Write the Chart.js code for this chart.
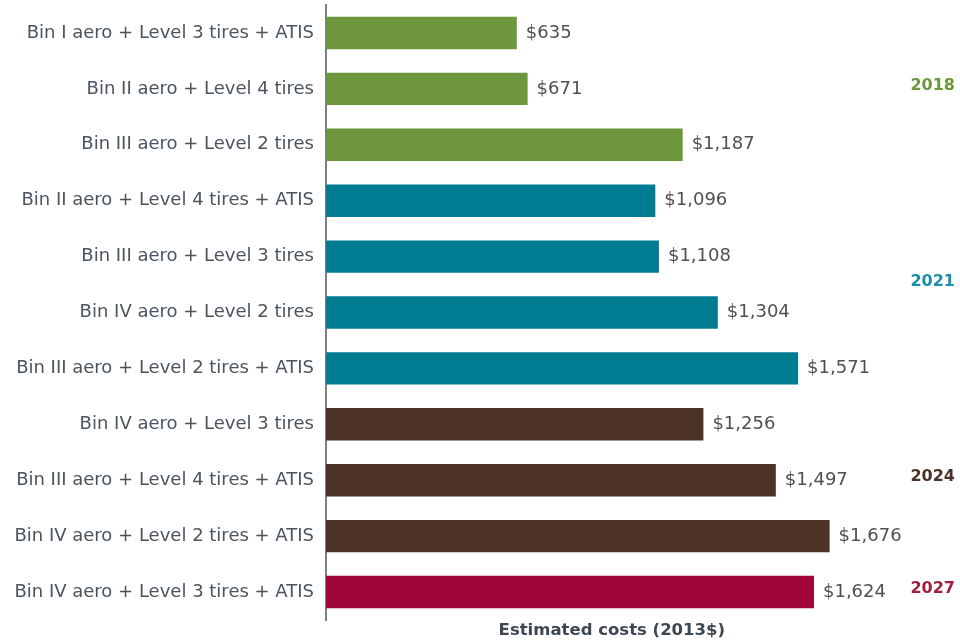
<!DOCTYPE html>
<html>
<head>
<meta charset="utf-8">
<script src="https://cdn.jsdelivr.net/npm/chart.js@4/dist/chart.umd.min.js"></script>
<style>
  html, body { margin: 0; padding: 0; background: #fff; }
  #wrap { width: 960px; height: 644px; }
</style>
</head>
<body>
<div id="wrap"><canvas id="costs"></canvas></div>
<script>
const FONT = "'DejaVu Sans', sans-serif";

const packages = [
  "Bin I aero + Level 3 tires + ATIS",
  "Bin II aero + Level 4 tires",
  "Bin III aero + Level 2 tires",
  "Bin II aero + Level 4 tires + ATIS",
  "Bin III aero + Level 3 tires",
  "Bin IV aero + Level 2 tires",
  "Bin III aero + Level 2 tires + ATIS",
  "Bin IV aero + Level 3 tires",
  "Bin III aero + Level 4 tires + ATIS",
  "Bin IV aero + Level 2 tires + ATIS",
  "Bin IV aero + Level 3 tires + ATIS",
];
const costs = [635, 671, 1187, 1096, 1108, 1304, 1571, 1256, 1497, 1676, 1624];
const years = [2018, 2018, 2018, 2021, 2021, 2021, 2021, 2024, 2024, 2024, 2027];

const YEAR_BAR = { 2018: "#6E963C", 2021: "#007C92", 2024: "#4D3327", 2027: "#A0063A" };
const YEAR_TEXT = { 2018: "#6E963C", 2021: "#1A8FAD", 2024: "#4A3228", 2027: "#A0203F" };

const fmt = (v) => "$" + v.toLocaleString("en-US");

// value labels at bar ends, year labels in the right margin, x axis caption
const annotations = {
  id: "annotations",
  afterDatasetsDraw(chart) {
    const { ctx, chartArea } = chart;
    const meta = chart.getDatasetMeta(0);
    ctx.save();
    ctx.font = "18px " + FONT;
    ctx.fillStyle = "#505050";
    ctx.textAlign = "left";
    ctx.textBaseline = "middle";
    meta.data.forEach((bar, i) => {
      ctx.fillText(fmt(costs[i]), bar.x + 9, bar.y);
    });

    // one label per year group, centred on its rows
    const groups = {};
    years.forEach((y, i) => {
      (groups[y] = groups[y] || []).push(meta.data[i].y);
    });
    ctx.font = "bold 16px " + FONT;
    ctx.textAlign = "right";
    Object.keys(groups).forEach((y) => {
      const ys = groups[y];
      const mid = (ys[0] + ys[ys.length - 1]) / 2;
      ctx.fillStyle = YEAR_TEXT[y];
      ctx.fillText(y, 955, mid - 3);
    });

    ctx.font = "bold 16.5px " + FONT;
    ctx.fillStyle = "#3D4852";
    ctx.textAlign = "center";
    ctx.fillText("Estimated costs (2013$)", chartArea.left + 0.453 * (chartArea.right - chartArea.left), 631);
    ctx.restore();
  },
};

new Chart(document.getElementById("costs"), {
  type: "bar",
  data: {
    labels: packages,
    datasets: [
      {
        data: costs,
        backgroundColor: years.map((y) => YEAR_BAR[y]),
        barPercentage: 0.58,
        categoryPercentage: 1,
      },
    ],
  },
  options: {
    indexAxis: "y",
    responsive: true,
    maintainAspectRatio: false,
    animation: false,
    layout: { padding: { top: 5, bottom: 24, right: 3, left: 0 } },
    plugins: {
      legend: { display: false },
      tooltip: { enabled: false },
    },
    scales: {
      x: {
        display: false,
        min: 0,
        max: 2100,
      },
      y: {
        afterFit(scale) {
          scale.width = 326;
          scale.paddingTop = 0;
          scale.paddingBottom = 0;
        },
        grid: { display: false, drawTicks: false },
        border: { display: true, color: "#7F7F7F", width: 2 },
        ticks: {
          color: "#4A5560",
          padding: 12,
          font: { family: FONT, size: 18 },
        },
      },
    },
  },
  plugins: [annotations],
});
</script>
</body>
</html>
